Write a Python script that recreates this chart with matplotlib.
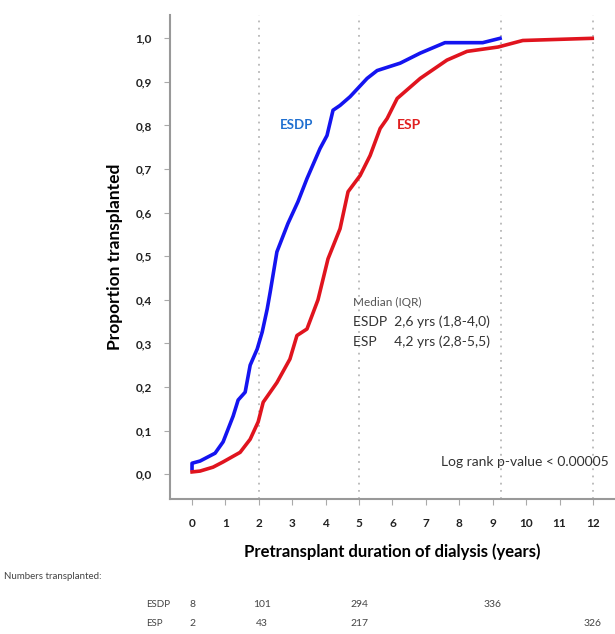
import matplotlib
matplotlib.use("Agg")
import matplotlib.pyplot as plt
import matplotlib.transforms as mtransforms

plt.rcParams['font.family'] = ['Lato', 'DejaVu Sans']

# ESDP cumulative proportion transplanted
esdp_t = [0.0, 0.0, 0.24, 0.69, 0.93, 1.23, 1.38, 1.59, 1.74, 1.95, 2.1, 2.25, 2.34,
          2.54, 2.87, 3.17, 3.44, 3.83, 4.04, 4.22, 4.43, 4.73, 5.24, 5.54,
          6.23, 6.83, 7.57, 8.7, 9.22]
esdp_p = [0.012, 0.025, 0.03, 0.048, 0.074, 0.133, 0.17, 0.188, 0.25, 0.287, 0.326, 0.379, 0.418,
          0.51, 0.575, 0.625, 0.678, 0.747, 0.777, 0.835, 0.846, 0.866, 0.908, 0.926,
          0.943, 0.966, 0.99, 0.99, 1.0]

# ESP cumulative proportion transplanted
esp_t = [0.0, 0.24, 0.63, 0.93, 1.44, 1.74, 1.98, 2.13, 2.54, 2.93, 3.14, 3.44,
         3.77, 4.07, 4.43, 4.67, 5.03, 5.33, 5.63, 5.84, 6.14, 6.83, 7.63,
         8.23, 9.16, 9.9, 11.98]
esp_p = [0.005, 0.007, 0.016, 0.028, 0.05, 0.08, 0.12, 0.165, 0.21, 0.264, 0.318, 0.333,
         0.40, 0.494, 0.563, 0.648, 0.685, 0.731, 0.793, 0.816, 0.862, 0.908, 0.95,
         0.97, 0.98, 0.995, 1.0]

x_ticks = list(range(0, 13))
y_ticks = [0.0, 0.1, 0.2, 0.3, 0.4, 0.5, 0.6, 0.7, 0.8, 0.9, 1.0]
y_tick_labels = ['0,0', '0,1', '0,2', '0,3', '0,4', '0,5', '0,6', '0,7', '0,8', '0,9', '1,0']
ref_lines = [2, 5, 9.25, 12]

count_times = [0, 2.1, 5, 9, 12]
esdp_counts = ['8', '101', '294', '336', '']
esp_counts = ['2', '43', '217', '', '326']

fig = plt.figure(figsize=(6.15, 6.34), dpi=100)
ax = fig.add_axes([0.2764, 0.213, 0.7236, 0.763])
ax.set_xlim(-0.66, 12.66)
ax.set_ylim(-0.057, 1.053)

for v in ref_lines:
    ax.axvline(v, color='#b8b8b8', linestyle=(0, (1, 3)), linewidth=1.3, zorder=1)

ax.plot(esdp_t, esdp_p, color='#1414f0', linewidth=2.6, zorder=3, solid_joinstyle='round')
ax.plot(esp_t, esp_p, color='#e0141e', linewidth=2.6, zorder=3, solid_joinstyle='round')

ax.text(3.14, 0.80, 'ESDP', color='#1f6fd0', fontsize=9.5, fontweight='bold', ha='center', va='center')
ax.text(6.5, 0.80, 'ESP', color='#e02020', fontsize=10, fontweight='bold', ha='center', va='center')

ax.text(4.82, 0.393, 'Median (IQR)', fontsize=8.5, color='#555555', ha='left', va='center')
ax.text(4.82, 0.349, 'ESDP  2,6 yrs (1,8-4,0)', fontsize=10, color='#333333', ha='left', va='center')
ax.text(4.82, 0.303, 'ESP     4,2 yrs (2,8-5,5)', fontsize=10, color='#333333', ha='left', va='center')
ax.text(12.46, 0.028, 'Log rank p-value < 0.00005', fontsize=10, color='#333333', ha='right', va='center')

ax.set_xticks(x_ticks)
ax.set_xticklabels([str(t) for t in x_ticks], fontsize=8.5, fontweight='bold', color='#222222')
ax.set_yticks(y_ticks)
ax.set_yticklabels(y_tick_labels, fontsize=8.5, fontweight='bold', color='#222222')
ax.tick_params(axis='both', direction='out', length=4, width=0.8, color='#aaaaaa')
ax.tick_params(axis='x', pad=10)
ax.tick_params(axis='y', pad=9)

for s in ['top', 'right']:
    ax.spines[s].set_visible(False)
for s in ['left', 'bottom']:
    ax.spines[s].set_color('#999999')
    ax.spines[s].set_linewidth(1.5)

ax.set_xlabel('Pretransplant duration of dialysis (years)', fontsize=12, fontweight='bold', labelpad=10)
ax.set_ylabel('Proportion transplanted', fontsize=12.5, fontweight='bold', labelpad=9)

trans = mtransforms.blended_transform_factory(ax.transData, fig.transFigure)
fig.text(0.006, 0.09, 'Numbers transplanted:', fontsize=7, color='#444444', ha='left', va='center')
fig.text(0.238, 0.046, 'ESDP', fontsize=7, color='#444444', ha='left', va='center')
fig.text(0.238, 0.017, 'ESP', fontsize=7, color='#444444', ha='left', va='center')
for t, c in zip(count_times, esdp_counts):
    ax.text(t, 0.046, c, transform=trans, fontsize=7.5, color='#444444', ha='center', va='center')
for t, c in zip(count_times, esp_counts):
    ax.text(t, 0.017, c, transform=trans, fontsize=7.5, color='#444444', ha='center', va='center')

fig.savefig('out.png', dpi=100)
